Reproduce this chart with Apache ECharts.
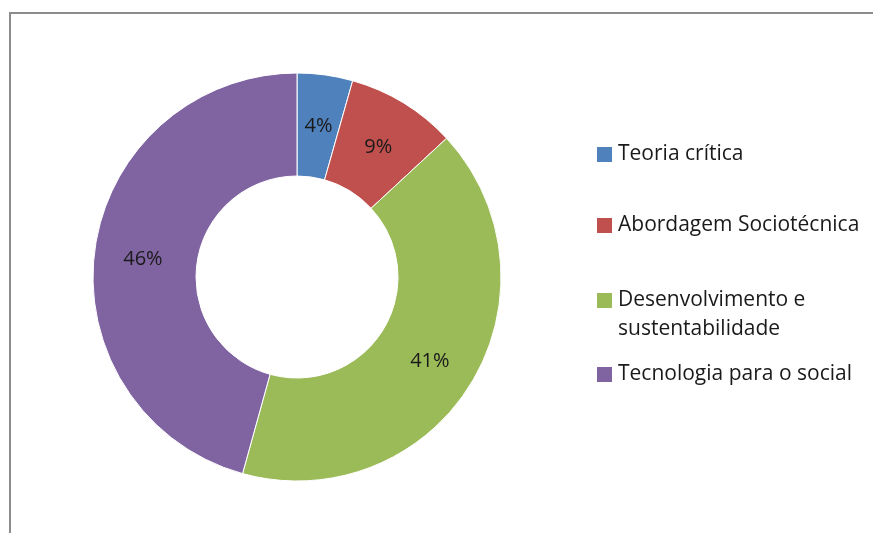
<!DOCTYPE html>
<html>
<head>
<meta charset="utf-8">
<script src="https://cdn.jsdelivr.net/npm/echarts@6/dist/echarts.min.js"></script>
<style>
html, body { margin: 0; padding: 0; background: #fff; }
#chart { width: 873px; height: 533px; }
</style>
</head>
<body>
<div id="chart"></div>
<script>
// categorias e valores
var categorias = ['Teoria crítica', 'Abordagem Sociotécnica', 'Desenvolvimento e\nsustentabilidade', 'Tecnologia para o social'];
var valores = [4.4, 8.7, 41.2, 45.7];
var cores = ['#4F81BD', '#C0504D', '#9BBB59', '#8064A2'];
var legendaCentro = [153, 224, 299, 373];

var fonte = 'Open Sans';
var chart = echarts.init(document.getElementById('chart'));

var legendas = categorias.map(function (nome, i) {
	var dupla = nome.indexOf('\n') >= 0;
	return {
		data: [nome],
		left: 590,
		top: legendaCentro[i] - (dupla ? 47 : 18),
		icon: 'rect',
		itemWidth: 17,
		itemHeight: 17,
		itemGap: 0,
		selectedMode: false,
		// linha vazia antes para alinhar a 1a linha com o ícone
		formatter: function (n) { return dupla ? '\n' + n : n; },
		textStyle: {
			fontFamily: fonte,
			fontSize: 21,
			color: '#1a1a1a',
			lineHeight: 29
		}
	};
});

chart.setOption({
	animation: false,
	color: cores,
	graphic: [{
		type: 'rect',
		shape: { x: 10, y: 13, width: 900, height: 600 },
		style: { fill: 'none', stroke: '#8c8c8c', lineWidth: 2 }
	}],
	legend: legendas,
	series: [{
		type: 'pie',
		center: [297, 277],
		radius: [101, 204],
		startAngle: 90,
		clockwise: true,
		itemStyle: { borderColor: '#fff', borderWidth: 1 },
		label: {
			position: 'inside',
			offset: [0, 3],
			fontFamily: fonte,
			fontSize: 20,
			color: '#1a1a1a',
			formatter: function (p) { return Math.round(p.percent) + '%'; }
		},
		labelLine: { show: false },
		emphasis: { disabled: true },
		data: categorias.map(function (nome, i) {
			return { name: nome, value: valores[i] };
		})
	}]
});
</script>
</body>
</html>
